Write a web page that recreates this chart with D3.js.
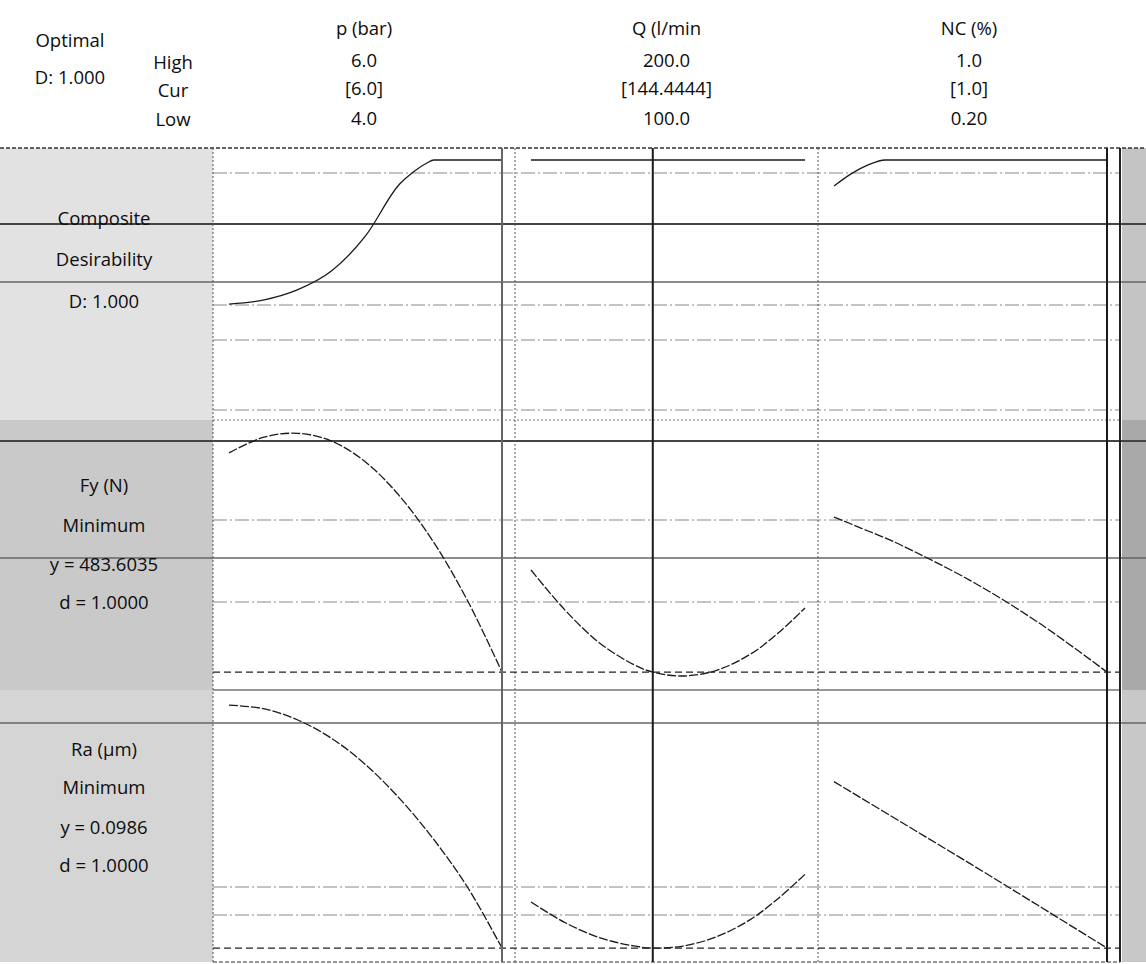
<!DOCTYPE html>
<html>
<head>
<meta charset="utf-8">
<script src="https://cdn.jsdelivr.net/npm/d3@7"></script>
<style>
  body { margin: 0; background: #fff; }
  text { font-family: 'Open Sans', 'Noto Sans', sans-serif; fill: #0d0d0d; }
</style>
</head>
<body>
<div class="chart"></div>
<script>
// factors (columns)
let factorNames = ['p (bar)', 'Q (l/min', 'NC (%)']
let highLabels = ['6.0', '200.0', '1.0']
let curLabels = ['[6.0]', '[144.4444]', '[1.0]']
let lowLabels = ['4.0', '100.0', '0.20']
let lowVals = [4.0, 100, 0.2]
let highVals = [6.0, 200, 1.0]
let curVals = [6.0, 144.4444, 1.0]

// responses (rows)
let rowLabels = [
  ['Composite', 'Desirability', 'D: 1.000'],
  ['Fy (N)', 'Minimum', 'y = 483.6035', 'd = 1.0000'],
  ['Ra (µm)', 'Minimum', 'y = 0.0986', 'd = 1.0000'],
]
let curY = [1.0, 483.6035, 0.0986]
let yDomains = [[0, 1], [479, 576.5], [0.09, 0.41]]

// p (bar) traces
let pGridD = [4.0, 4.25, 4.5, 4.75, 5.0, 5.25, 5.35, 5.45, 5.5, 5.75, 6.0]
let pD = [0.419, 0.435, 0.476, 0.552, 0.694, 0.903, 0.952, 0.988, 1, 1, 1]
let pGrid = [4.0, 4.25, 4.5, 4.75, 5.0, 5.25, 5.5, 5.75, 6.0]
let pFy = [568.4, 574.4, 576.0, 573.0, 564.9, 551.7, 533.8, 511.0, 483.6]
let pRa = [0.4, 0.3956, 0.3818, 0.3589, 0.3262, 0.284, 0.2333, 0.1734, 0.0986]

// Q (l/min) traces
let qGridD = [100, 200]
let qD = [1, 1]
let qGrid = [100, 112.5, 125, 137.5, 144.4444, 155, 167.5, 180, 190, 200]
let qFy = [523.1, 507.5, 494.9, 486.5, 483.6, 482.1, 484.2, 490.5, 498.5, 508.4]
let qRa = [0.1558, 0.13, 0.1116, 0.1012, 0.0986, 0.1008, 0.1123, 0.1339, 0.1595, 0.19]

// NC (%) traces
let ncGridD = [0.2, 0.25, 0.3, 0.35, 0.4, 0.6, 0.8, 1.0]
let ncD = [0.895, 0.944, 0.98, 1, 1, 1, 1, 1]
let ncGridFy = [0.2, 0.25, 0.3, 0.35, 0.4, 0.6, 0.8, 1.0]
let ncFy = [543.6, 540.9, 538.2, 535.5, 532.5, 519.0, 502.7, 483.6]
let ncGridRa = [0.2, 0.4, 0.6, 0.8, 1.0]
let ncRa = [0.305, 0.254, 0.203, 0.151, 0.0986]

const width = 1146
const height = 964
const colEdges = [213, 515, 818, 1120]
const rowEdges = [148, 420, 690, 962]
const yRanges = [[408, 160], [684, 432], [955, 697]]

const svg = d3
  .select('.chart')
  .append('svg')
  .attr('width', width)
  .attr('height', height)

// scales
let xScales = factorNames.map((f, i) =>
  d3
    .scaleLinear()
    .domain([lowVals[i], highVals[i]])
    .range([colEdges[i] + 16, colEdges[i + 1] - 13])
)
let yScales = yDomains.map((dom, r) =>
  d3.scaleLinear().domain(dom).range(yRanges[r])
)

// grey tone of the scanned label column and right margin
let labelTones = ['#e2e2e2', '#c9c9c9', '#d5d5d5']
labelTones.forEach((c, r) => {
  svg
    .append('rect')
    .attr('x', 0)
    .attr('y', rowEdges[r])
    .attr('width', colEdges[0])
    .attr('height', rowEdges[r + 1] - rowEdges[r])
    .style('fill', c)
})
let marginTones = ['#c4c4c4', '#a9a9a9', '#c8c8c8']
marginTones.forEach((c, r) => {
  svg
    .append('rect')
    .attr('x', colEdges[3] + 2)
    .attr('y', rowEdges[r])
    .attr('width', width - colEdges[3] - 2)
    .attr('height', rowEdges[r + 1] - rowEdges[r])
    .style('fill', c)
})

// faint ruling left by the scan
const solidRules = [224, 282, 441, 558, 723]
const dashRules = [173, 305, 340, 410, 520, 602, 887, 915]
solidRules.forEach((y, i) => {
  svg
    .append('line')
    .attr('x1', 0)
    .attr('x2', width)
    .attr('y1', y)
    .attr('y2', y)
    .style('stroke', i === 0 || i === 2 ? '#444' : '#666')
    .style('stroke-width', i === 0 || i === 2 ? 2 : 1.3)
})
dashRules.forEach((y) => {
  svg
    .append('line')
    .attr('x1', colEdges[0])
    .attr('x2', colEdges[3])
    .attr('y1', y)
    .attr('y2', y)
    .style('stroke', '#888')
    .style('stroke-width', 1)
    .style('stroke-dasharray', '14,3,2,3')
})

// panel frame
rowEdges.forEach((y, i) => {
  svg
    .append('line')
    .attr('x1', i === 0 ? 0 : colEdges[0])
    .attr('x2', i === 0 ? width : colEdges[3])
    .attr('y1', y)
    .attr('y2', y)
    .style('stroke', i === 1 ? '#777' : '#333')
    .style('stroke-width', i === 0 ? 1.6 : 1.2)
    .style('stroke-dasharray', i === 2 ? null : i === 1 ? '2,2' : '4,2')
})
colEdges.forEach((x, i) => {
  svg
    .append('line')
    .attr('x1', x)
    .attr('x2', x)
    .attr('y1', rowEdges[0])
    .attr('y2', rowEdges[3])
    .style('stroke', i === 3 ? '#222' : '#555')
    .style('stroke-width', i === 3 ? 2 : 1)
    .style('stroke-dasharray', i === 3 ? null : '2,2')
})

// traces
let traces = [
  [
    [pGridD, pD],
    [pGrid, pFy],
    [pGrid, pRa],
  ],
  [
    [qGridD, qD],
    [qGrid, qFy],
    [qGrid, qRa],
  ],
  [
    [ncGridD, ncD],
    [ncGridFy, ncFy],
    [ncGridRa, ncRa],
  ],
]

traces.forEach((col, c) => {
  col.forEach((tr, r) => {
    let pts = tr[0].map((x, k) => [x, tr[1][k]])
    let line = d3
      .line()
      .x((d) => xScales[c](d[0]))
      .y((d) => yScales[r](d[1]))
      .curve(r === 0 ? d3.curveMonotoneX : d3.curveCatmullRom.alpha(0.5))
    svg
      .append('path')
      .attr('d', line(pts))
      .style('fill', 'none')
      .style('stroke', '#1a1a1a')
      .style('stroke-width', 1.3)
      .style('stroke-dasharray', r === 0 ? null : '9,2')
  })
})

// current y value (dashed)
curY.forEach((v, r) => {
  if (r === 0) return
  svg
    .append('line')
    .attr('x1', colEdges[0])
    .attr('x2', colEdges[3])
    .attr('y1', yScales[r](v))
    .attr('y2', yScales[r](v))
    .style('stroke', '#222')
    .style('stroke-width', 1.3)
    .style('stroke-dasharray', '7,4')
})

// current factor settings (vertical)
curVals.forEach((v, c) => {
  svg
    .append('line')
    .attr('x1', xScales[c](v))
    .attr('x2', xScales[c](v))
    .attr('y1', rowEdges[0])
    .attr('y2', rowEdges[3])
    .style('stroke', c === 0 ? '#666' : '#1a1a1a')
    .style('stroke-width', 2)
})

// header text
svg.append('text').attr('x', 70).attr('y', 39).text('Optimal')
svg.append('text').attr('x', 70).attr('y', 76).text('D: 1.000')
;['High', 'Cur', 'Low'].forEach((t, i) => {
  svg
    .append('text')
    .attr('x', 173)
    .attr('y', [61, 89, 118][i])
    .text(t)
})
factorNames.forEach((f, c) => {
  let cx = (colEdges[c] + colEdges[c + 1]) / 2
  let rows = [f, highLabels[c], curLabels[c], lowLabels[c]]
  rows.forEach((t, i) => {
    svg
      .append('text')
      .attr('x', cx)
      .attr('y', [27, 59, 87, 117][i])
      .text(t)
  })
})

// row labels
let labelY = [
  [217, 258, 300],
  [484, 524, 563, 601],
  [748, 786, 826, 864],
]
rowLabels.forEach((lines, r) => {
  lines.forEach((t, i) => {
    svg
      .append('text')
      .attr('x', 104)
      .attr('y', labelY[r][i])
      .text(t)
  })
})

svg
  .selectAll('text')
  .attr('text-anchor', 'middle')
  .attr('dominant-baseline', 'central')
  .style('font-size', '18.5px')
</script>
</body>
</html>
